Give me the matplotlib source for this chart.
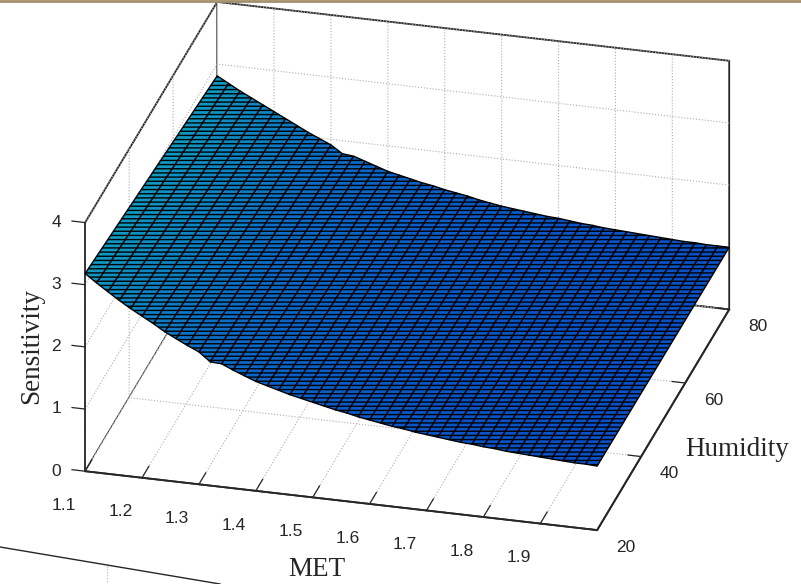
import numpy as np
import matplotlib
matplotlib.use("Agg")
import matplotlib.pyplot as plt
from matplotlib.colors import LinearSegmentedColormap, Normalize
from matplotlib.lines import Line2D
from mpl_toolkits.mplot3d import proj3d

# Values read along the two visible surface edges (humidity 20 and 80).
# The reference's finer humidity mesh is suggested by a hatch style, not by extra data rows.
met = [1.10,1.12,1.14,1.16,1.18,1.20,1.22,1.24,1.26,1.28,1.30,1.32,1.34,1.36,1.38,1.40,1.42,1.44,1.46,1.48,1.50,1.52,1.54,
       1.56,1.58,1.60,1.62,1.64,1.66,1.68,1.70,1.72,1.74,1.76,1.78,1.80,1.82,1.84,1.86,1.88,1.90,1.92,1.94,1.96,1.98,2.00]
humidity = [20, 80]
z_h20 = [3.18,3.05,2.93,2.81,2.70,2.60,2.50,2.39,2.30,2.21,2.13,1.99,1.98,1.90,1.83,1.76,1.71,1.66,1.61,1.57,1.53,1.49,1.45,
         1.42,1.38,1.35,1.32,1.29,1.27,1.24,1.22,1.20,1.18,1.16,1.15,1.13,1.12,1.10,1.09,1.08,1.07,1.06,1.05,1.04,1.04,1.03]
z_h80 = [2.81,2.71,2.61,2.52,2.43,2.34,2.25,2.16,2.07,1.99,1.91,1.79,1.77,1.71,1.65,1.59,1.55,1.51,1.47,1.44,1.40,1.37,1.34,
         1.30,1.27,1.24,1.22,1.20,1.18,1.16,1.15,1.13,1.11,1.10,1.08,1.07,1.06,1.05,1.04,1.03,1.02,1.01,1.01,1.00,1.00,1.00]
z_rows = [z_h20, z_h80]
x_ticks = [1.1,1.2,1.3,1.4,1.5,1.6,1.7,1.8,1.9]
y_ticks = [20,40,60,80]
z_ticks = [0,1,2,3,4]

W, H = 801, 584
plt.rcParams.update({'font.family':'Liberation Sans','grid.color':'#adadad','grid.linewidth':0.8,'grid.linestyle':':',
                     'hatch.linewidth':1.0,'hatch.color':'black'})
fig = plt.figure(figsize=(W/100, H/100), dpi=100, facecolor='white')
S0 = 584
ax = fig.add_axes([(W-S0)/2/W, 0, S0/W, 1], projection='3d', proj_type='ortho')
ax.view_init(elev=26, azim=-75.3)
ax.set_box_aspect((530, 521, 277))
ax.set_xlim(1.1, 2.0, view_margin=0)
ax.set_ylim(20, 80, view_margin=0)
ax.set_zlim(0, 4, view_margin=0)

corners = np.array([[1.1,20,0,85,471],[2.0,20,0,598,530],[2.0,80,0,729,310],[1.1,80,4,217,3],[1.1,20,4,85,222],[2.0,80,4,729,60]])
M = ax.get_proj()
tx, ty, _ = proj3d.proj_transform(corners[:,0], corners[:,1], corners[:,2], M)
ax.apply_aspect()
d = ax.transData.transform(np.c_[tx, ty]) - np.array([W/2, H/2])
T = np.c_[corners[:,3], H - corners[:,4]]
dc = d - d.mean(0); Tc = T - T.mean(0)
s = (dc*Tc).sum()/(dc*dc).sum()
c = T.mean(0) - s*d.mean(0)
Sz = S0*s
ax.set_position([(c[0]-Sz/2)/W, (c[1]-Sz/2)/H, Sz/W, Sz/H])
ax.patch.set_alpha(0)

X, Y = np.meshgrid(met, humidity)
Z = np.array(z_rows)
cmap = LinearSegmentedColormap.from_list('s', ['#0850C8','#0C6CC8','#0E98C0'])
norm = Normalize(1.0, 3.2)
ax.plot_surface(X, Y, Z, rstride=1, cstride=1, facecolors=cmap(norm(Z)), shade=False, edgecolor='black',
                linewidth=1.0, antialiased=True, hatch='----')

ax.set_xticks(x_ticks); ax.set_xticklabels([f'{v:.1f}' for v in x_ticks], ha='right', va='center')
ax.set_yticks(y_ticks); ax.set_yticklabels([str(v) for v in y_ticks], va='center')
ax.set_zticks(z_ticks); ax.set_zticklabels([str(v) for v in z_ticks], va='bottom')
ink = '#262626'
for axis, f in ((ax.xaxis, .65), (ax.yaxis, .32), (ax.zaxis, .32)):
    axis.set_pane_color((1,1,1,1))
    axis.pane.set_edgecolor(ink)
    axis.pane.set_linewidth(1.3)
    axis.line.set_color(ink); axis.line.set_linewidth(1.3)
    axis._axinfo['tick']['inward_factor'] = 0
    axis._axinfo['tick']['outward_factor'] = f
    axis._axinfo['tick']['linewidth'] = {True: 0.9, False: 0.5}
    axis._axinfo['tick']['color'] = ink
# z axis on the front-left corner, as in the reference
ax.zaxis._get_axis_line_edge_points = lambda minmax, maxmin, position=None: (np.array([1.1,20.,0.]), np.array([1.1,20.,4.]))
ax.tick_params(axis='x', labelsize=12.5, colors=ink, pad=13)
ax.tick_params(axis='y', labelsize=12.5, colors=ink, pad=8)
ax.tick_params(axis='z', labelsize=12.5, colors=ink, pad=5)

serif = dict(family='Liberation Serif', fontsize=19.5, color=ink)
fig.text(317/W, 1-569/H, 'MET', ha='center', va='center', **serif)
fig.text(737/W, 1-450/H, 'Humidity', ha='center', va='center', **serif)
fig.text(32/W, 1-346/H, 'Sensitivity', ha='center', va='center', rotation=90, **serif)

fig.add_artist(Line2D([0,1],[1-0.5/H,1-0.5/H], color='#A58E68', lw=2))
fig.add_artist(Line2D([0,220/W],[1-547/H,1-584/H], color=ink, lw=1))
fig.add_artist(Line2D([107/W,107/W],[1-566/H,1-584/H], color='#adadad', lw=0.8, ls=':'))
fig.savefig('out.png', dpi=100)
